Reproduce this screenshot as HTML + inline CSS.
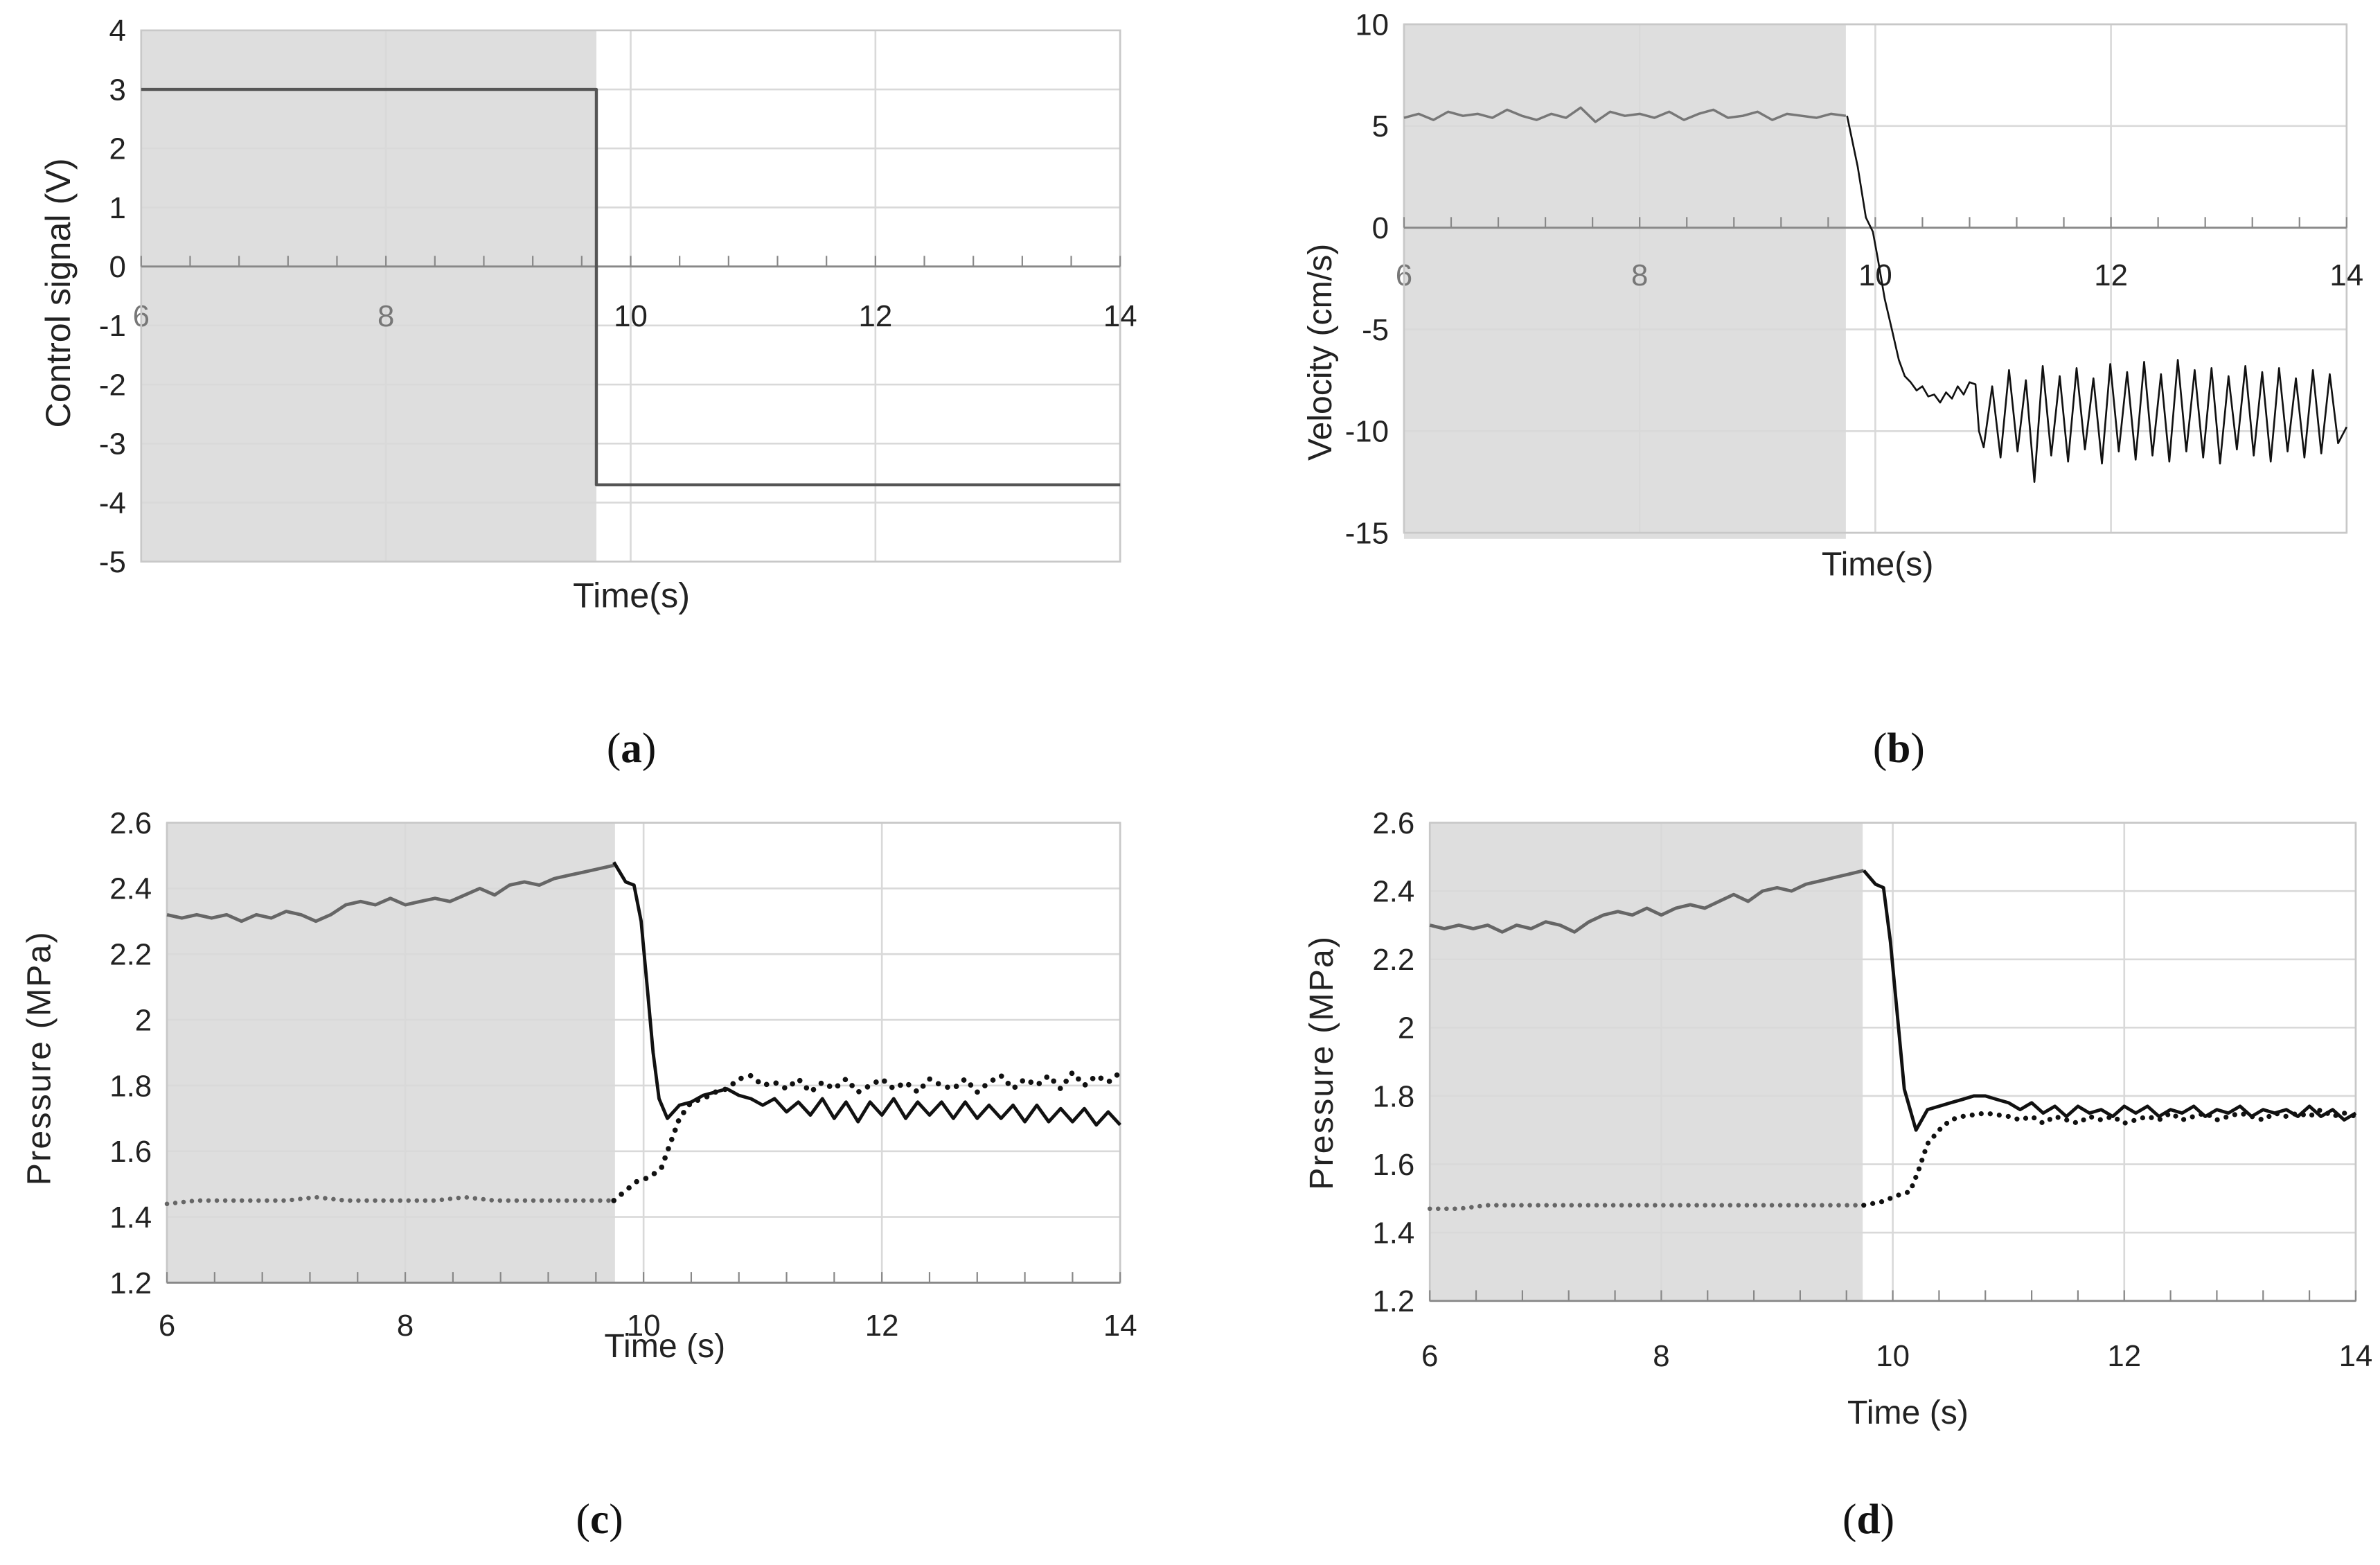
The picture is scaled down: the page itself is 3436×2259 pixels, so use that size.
<!DOCTYPE html>
<html><head><meta charset="utf-8">
<style>
html,body{margin:0;padding:0;background:#fff;}
svg{display:block;}
text{font-family:"Liberation Sans Narrow","Liberation Sans",sans-serif;}
.tl{font-size:20px;fill:#222;}
.at{font-family:"Liberation Sans",sans-serif;fill:#222;}
.pl{font-family:"Liberation Serif",serif;font-size:28px;fill:#111;}
</style></head>
<body>
<svg id="fig" width="3436" height="2259" viewBox="0 0 1568 1031" preserveAspectRatio="none" xmlns="http://www.w3.org/2000/svg">
<g id="pa"></g>
<g id="pb"></g>
<g id="pc"></g>
<g id="pd"></g>
<text class="pl" x="416" y="502" text-anchor="middle">(<tspan font-weight="bold">a</tspan>)</text>
<text class="pl" x="1251" y="502" text-anchor="middle">(<tspan font-weight="bold">b</tspan>)</text>
<text class="pl" x="395" y="1010" text-anchor="middle">(<tspan font-weight="bold">c</tspan>)</text>
<text class="pl" x="1231" y="1010" text-anchor="middle">(<tspan font-weight="bold">d</tspan>)</text>
</svg>
<script>
// ---- data ----
const xTicks = [6, 8, 10, 12, 14];
// panel a
const aYTicks = [4, 3, 2, 1, 0, -1, -2, -3, -4, -5];
const aTimes = [6, 9.72, 9.72, 14];
const aVals = [3, 3, -3.7, -3.7];
// panel b
const bYTicks = [10, 5, 0, -5, -10, -15];
const bPreVals = [5.4,5.6,5.3,5.7,5.5,5.6,5.4,5.8,5.5,5.3,5.6,5.4,5.9,5.2,5.7,5.5,5.6,5.4,5.7,5.3,5.6,5.8,5.4,5.5,5.7,5.3,5.6,5.5,5.4,5.6,5.5];
const bTransTimes = [9.76,9.85,9.92,9.98,10.02,10.08,10.14,10.2,10.25,10.3,10.35,10.4,10.45,10.5,10.55,10.6,10.65,10.7,10.75,10.8,10.85,10.88];
const bTransVals = [5.5,3,0.5,-0.2,-1.5,-3.5,-5,-6.5,-7.3,-7.6,-8,-7.8,-8.3,-8.2,-8.6,-8.1,-8.4,-7.8,-8.2,-7.6,-7.7,-10];
const bOscVals = [-10.8,-7.8,-11.3,-7.0,-11.0,-7.5,-12.5,-6.8,-11.2,-7.3,-11.5,-6.9,-10.9,-7.4,-11.6,-6.7,-11.0,-7.1,-11.4,-6.6,-11.2,-7.2,-11.5,-6.5,-11.0,-7.0,-11.3,-6.9,-11.6,-7.3,-10.9,-6.8,-11.2,-7.1,-11.5,-6.9,-11.0,-7.4,-11.3,-7.0,-11.1,-7.2,-10.6,-9.8];
// panel c
const pYTicks = [2.6, 2.4, 2.2, 2, 1.8, 1.6, 1.4, 1.2];
const cSolidPre = [2.32,2.31,2.32,2.31,2.32,2.30,2.32,2.31,2.33,2.32,2.30,2.32,2.35,2.36,2.35,2.37,2.35,2.36,2.37,2.36,2.38,2.40,2.38,2.41,2.42,2.41,2.43,2.44,2.45,2.46,2.47];
const cSolidTransT = [9.75,9.85,9.92,9.98,10.03,10.08,10.13,10.2,10.3,10.4,10.5,10.6,10.7,10.8,10.9,11.0];
const cSolidTransV = [2.48,2.42,2.41,2.3,2.1,1.9,1.76,1.7,1.74,1.75,1.77,1.78,1.79,1.77,1.76,1.74];
const cSolidOsc = [1.76,1.72,1.75,1.71,1.76,1.70,1.75,1.69,1.75,1.71,1.76,1.70,1.75,1.71,1.75,1.70,1.75,1.70,1.74,1.70,1.74,1.69,1.74,1.69,1.73,1.69,1.73,1.68,1.72,1.68];
const cDotPre = [1.44,1.45,1.45,1.45,1.45,1.46,1.45,1.45,1.45,1.45,1.46,1.45,1.45,1.45,1.45,1.45];
const cDotTransT = [9.75,9.85,9.95,10.05,10.15,10.22,10.3,10.4,10.5,10.6,10.7,10.8,10.9,11.0];
const cDotTransV = [1.45,1.48,1.51,1.52,1.55,1.62,1.70,1.75,1.76,1.78,1.79,1.82,1.83,1.80];
const cDotOsc = [1.81,1.79,1.82,1.78,1.81,1.79,1.82,1.78,1.80,1.82,1.79,1.81,1.78,1.82,1.80,1.79,1.82,1.78,1.81,1.83,1.79,1.82,1.80,1.83,1.79,1.84,1.80,1.83,1.81,1.84];
// panel d
const dSolidPre = [2.30,2.29,2.30,2.29,2.30,2.28,2.30,2.29,2.31,2.30,2.28,2.31,2.33,2.34,2.33,2.35,2.33,2.35,2.36,2.35,2.37,2.39,2.37,2.40,2.41,2.40,2.42,2.43,2.44,2.45,2.46];
const dSolidTransT = [9.75,9.85,9.92,9.98,10.05,10.1,10.2,10.3,10.4,10.5,10.6,10.7,10.8,10.9,11.0];
const dSolidTransV = [2.46,2.42,2.41,2.25,2.0,1.82,1.70,1.76,1.77,1.78,1.79,1.80,1.80,1.79,1.78];
const dSolidOsc = [1.76,1.78,1.75,1.77,1.74,1.77,1.75,1.76,1.74,1.77,1.75,1.77,1.74,1.76,1.75,1.77,1.74,1.76,1.75,1.77,1.74,1.76,1.75,1.76,1.74,1.77,1.74,1.76,1.73,1.75];
const dDotPre = [1.47,1.47,1.48,1.48,1.48,1.48,1.48,1.48,1.48,1.48,1.48,1.48,1.48,1.48,1.48,1.48];
const dDotTransT = [9.75,9.9,10.05,10.15,10.22,10.3,10.4,10.5,10.6,10.8,11.0];
const dDotTransV = [1.48,1.49,1.51,1.52,1.58,1.66,1.70,1.73,1.74,1.75,1.74];
const dDotOsc = [1.73,1.74,1.72,1.74,1.73,1.72,1.74,1.73,1.74,1.72,1.73,1.74,1.73,1.75,1.73,1.74,1.75,1.73,1.74,1.75,1.74,1.73,1.75,1.74,1.75,1.74,1.76,1.74,1.75,1.74];

const NS = "http://www.w3.org/2000/svg";
function el(parent, tag, attrs) {
  const e = document.createElementNS(NS, tag);
  for (const k in attrs) e.setAttribute(k, attrs[k]);
  parent.appendChild(e);
  return e;
}
function grid(n, t0, t1) { const a = []; for (let i = 0; i < n; i++) a.push(t0 + (t1 - t0) * i / (n - 1)); return a; }

function drawPanel(g, c) {
  const sx = t => c.x0 + (t - 6) / 8 * (c.x1 - c.x0);
  const sy = v => c.y0 + (c.yMax - v) / (c.yMax - c.yMin) * (c.y1 - c.y0);
  const shade = el(g, 'rect', {x: c.x0, y: c.y0, width: sx(c.shadeEnd) - c.x0, height: c.y1 - c.y0 + (c.shadeExtra || 0), fill: '#dedede'});
  
  
  c.yTicks.forEach(v => {
    const l = el(g, 'line', {x1: c.x0, x2: c.x1, y1: sy(v), y2: sy(v), stroke: '#d9d9d9', 'stroke-width': 1.2});
    
    
    const t = el(g, 'text', {x: c.x0 - 10, y: sy(v) + 7, 'text-anchor': 'end', class: 'tl'});
    t.textContent = String(v);
    
    
  });
  xTicks.forEach(v => {
    const l = el(g, 'line', {x1: sx(v), x2: sx(v), y1: c.y0, y2: c.y1, stroke: '#d9d9d9', 'stroke-width': 1.2});
    
    
    const t = el(g, 'text', {x: sx(v), y: c.xLabY, 'text-anchor': 'middle', class: 'tl'});
    if (c.grayX && v < 10) t.style.fill = '#777';
    t.textContent = String(v);
    
    
  });
  const border = el(g, 'rect', {x: c.x0, y: c.y0, width: c.x1 - c.x0, height: c.y1 - c.y0, fill: 'none', stroke: '#c8c8c8', 'stroke-width': 1.2});
  
  
  const ay = sy(c.axisAt);
  const ax = el(g, 'line', {x1: c.x0, x2: c.x1, y1: ay, y2: ay, stroke: '#888', 'stroke-width': 1.3});
  
  
  for (let t = 6; t <= 14.001; t += 0.4) {
    const tk = el(g, 'line', {x1: sx(t), x2: sx(t), y1: ay, y2: ay - 7, stroke: '#888', 'stroke-width': 1});
    
    
  }
  const xt = el(g, 'text', {x: c.xTitleX, y: c.xTitleY, 'text-anchor': 'middle', class: 'at', 'font-size': c.titleSize});
  xt.textContent = c.xTitle;
  
  
  const yt = el(g, 'text', {x: 0, y: 0, 'text-anchor': 'middle', class: 'at', 'font-size': c.titleSize, 'letter-spacing': c.ySpacing || 0, transform: `translate(${c.yTitleX},${c.yTitleY}) rotate(-90)`});
  yt.textContent = c.yTitle;
  
  
  c.series.forEach(s => {
    const pts = s.t.map((t, i) => sx(t).toFixed(1) + ',' + sy(s.v[i]).toFixed(1)).join(' ');
    const attrs = {points: pts, fill: 'none', stroke: s.color, 'stroke-width': s.w, 'stroke-linejoin': 'round'};
    if (s.dot) { attrs['stroke-dasharray'] = s.dot; attrs['stroke-linecap'] = 'round'; }
    const p = el(g, 'polyline', attrs);
    
    
  });
}

const preT31 = grid(31, 6, 9.75);
const preT16 = grid(16, 6, 9.75);
const oscB = grid(bOscVals.length, 10.92, 14);
const osc30 = grid(30, 11.1, 14);

drawPanel(document.getElementById('pa'), {
  x0: 93, x1: 738, y0: 20, y1: 370, yMin: -5, yMax: 4, yTicks: aYTicks, shadeEnd: 9.72, axisAt: 0,
  xLabY: 215, grayX: true, titleSize: 23, xTitle: 'Time(s)', xTitleX: 416, xTitleY: 400, yTitle: 'Control signal (V)', yTitleX: 46, yTitleY: 193,
  series: [{name: 'control-signal-line', t: aTimes, v: aVals, color: '#555', w: 2}]
});
drawPanel(document.getElementById('pb'), {
  x0: 925, x1: 1546, y0: 16, y1: 351, yMin: -15, yMax: 10, yTicks: bYTicks, shadeEnd: 9.75, shadeExtra: 4, axisAt: 0,
  xLabY: 188, grayX: true, titleSize: 22, xTitle: 'Time(s)', xTitleX: 1237, xTitleY: 379, yTitle: 'Velocity (cm/s)', yTitleX: 877, yTitleY: 232,
  series: [
    {name: 'velocity-before-line', t: preT31, v: bPreVals, color: '#777', w: 1.6},
    {name: 'velocity-after-line', t: bTransTimes.concat(oscB), v: bTransVals.concat(bOscVals), color: '#111', w: 1.2}
  ]
});
drawPanel(document.getElementById('pc'), {
  x0: 110, x1: 738, y0: 542, y1: 845, yMin: 1.2, yMax: 2.6, yTicks: pYTicks, shadeEnd: 9.76, axisAt: 1.2,
  xLabY: 880, grayX: false, titleSize: 22, ySpacing: 1, xTitle: 'Time (s)', xTitleX: 438, xTitleY: 894, yTitle: 'Pressure (MPa)', yTitleX: 33, yTitleY: 697,
  series: [
    {name: 'pressure-solid-before', t: preT31, v: cSolidPre, color: '#666', w: 2.2},
    {name: 'pressure-solid-after', t: cSolidTransT.concat(osc30), v: cSolidTransV.concat(cSolidOsc), color: '#111', w: 2.2},
    {name: 'pressure-dotted-before', t: preT16, v: cDotPre, color: '#666', w: 3, dot: '0 5.5'},
    {name: 'pressure-dotted-after', t: cDotTransT.concat(osc30), v: cDotTransV.concat(cDotOsc), color: '#111', w: 3.5, dot: '0 6.5'}
  ]
});
drawPanel(document.getElementById('pd'), {
  x0: 942, x1: 1552, y0: 542, y1: 857, yMin: 1.2, yMax: 2.6, yTicks: pYTicks, shadeEnd: 9.74, axisAt: 1.2,
  xLabY: 900, grayX: false, titleSize: 22, ySpacing: 1, xTitle: 'Time (s)', xTitleX: 1257, xTitleY: 938, yTitle: 'Pressure  (MPa)', yTitleX: 878, yTitleY: 700,
  series: [
    {name: 'pressure-solid-before', t: preT31, v: dSolidPre, color: '#666', w: 2.2},
    {name: 'pressure-solid-after', t: dSolidTransT.concat(osc30), v: dSolidTransV.concat(dSolidOsc), color: '#111', w: 2.2},
    {name: 'pressure-dotted-before', t: preT16, v: dDotPre, color: '#666', w: 3, dot: '0 5.5'},
    {name: 'pressure-dotted-after', t: dDotTransT.concat(osc30), v: dDotTransV.concat(dDotOsc), color: '#111', w: 3.3, dot: '0 6'}
  ]
});
</script>
</body></html>
